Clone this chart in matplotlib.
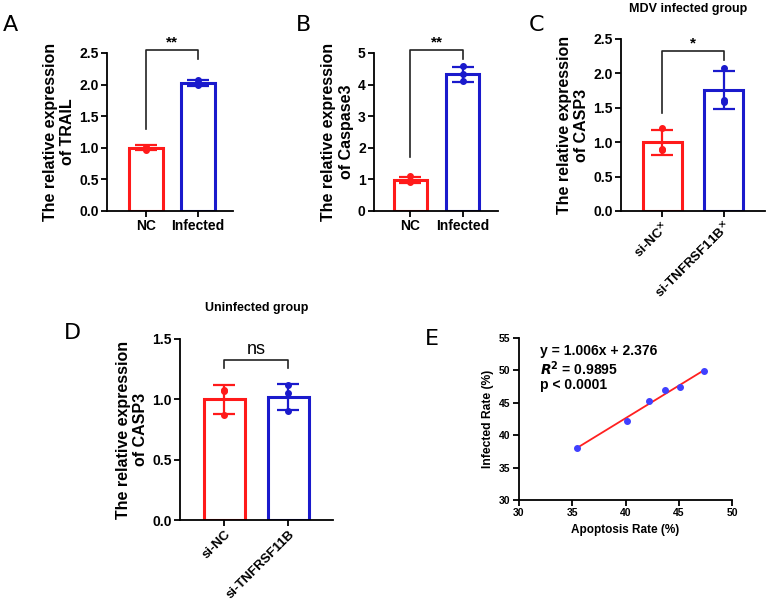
import numpy as np
import matplotlib
matplotlib.use('Agg')
import matplotlib.pyplot as plt

plt.rcParams['font.family'] = ['Liberation Sans', 'DejaVu Sans']
plt.rcParams['font.weight'] = 'bold'

RED = '#ff1a1a'
BLUE = '#1a1acc'
W, H = 767, 604

# ---- data ----
a_groups = ['NC', 'Infected']
a_mean = [1.00, 2.03]
a_sd = [0.04, 0.045]
a_pts = [[0.97, 1.00, 1.02], [2.00, 2.03, 2.07]]

b_groups = ['NC', 'Infected']
b_mean = [0.98, 4.32]
b_sd = [0.10, 0.25]
b_pts = [[1.10, 0.95, 0.92], [4.60, 4.32, 4.10]]

c_groups = ['si-NC$^{\\times}$', 'si-TNFRSF11B$^{\\times}$']
c_mean = [1.00, 1.76]
c_sd = [0.18, 0.28]
c_pts = [[1.20, 0.90, 0.88], [2.08, 1.61, 1.59]]

d_groups = ['si-NC', 'si-TNFRSF11B']
d_mean = [1.00, 1.02]
d_sd = [0.12, 0.11]
d_pts = [[1.08, 1.07, 0.87], [1.12, 1.05, 0.90]]

e_apoptosis = [35.4, 40.1, 42.2, 43.7, 45.1, 47.4]
e_infected = [38.0, 42.2, 45.3, 46.9, 47.4, 49.9]
e_slope, e_icpt = 1.006, 2.376

fig = plt.figure(figsize=(W / 100, H / 100), dpi=100)


def px_axes(l, r, t, b):
    return fig.add_axes([l / W, (H - b) / H, (r - l) / W, (b - t) / H])


def style(ax, fs=10, xfs=None):
    for s in ['top', 'right']:
        ax.spines[s].set_visible(False)
    for s in ['left', 'bottom']:
        ax.spines[s].set_linewidth(1.3)
    ax.tick_params(width=1.3, length=4, labelsize=fs, pad=2)
    if xfs:
        ax.tick_params(axis='x', labelsize=xfs)
    for t in ax.get_xticklabels() + ax.get_yticklabels():
        t.set_fontweight('bold')


def bar_panel(ax, groups, mean, sd, pts, ylim, yticks, yfmt, ylabel, xl, rot=0):
    x = np.arange(len(groups))
    cols = [RED, BLUE]
    for i in x:
        ax.bar(i, mean[i], width=0.64, facecolor='white', edgecolor=cols[i], linewidth=2.2, zorder=2)
        ax.errorbar(i, mean[i], yerr=sd[i], color=cols[i], capsize=8, capthick=1.6, elinewidth=1.6, zorder=3)
        ax.plot([i] * len(pts[i]), pts[i], 'o', color=cols[i], ms=4, zorder=4)
    ax.set_xlim(*xl)
    ax.set_ylim(*ylim)
    ax.set_yticks(yticks)
    ax.set_yticklabels([yfmt.format(v) for v in yticks])
    ax.set_xticks(x)
    if rot:
        ax.set_xticklabels(groups, rotation=rot, ha='right', rotation_mode='anchor')
    else:
        ax.set_xticklabels(groups)
    ax.set_ylabel(ylabel, fontsize=11.5, fontweight='bold', labelpad=3)
    style(ax, xfs=9.5 if rot else None)


def bracket(ax, y_top, y_left, y_right, txt, ty, fs=11, weight='bold'):
    ax.plot([0, 0, 1, 1], [y_left, y_top, y_top, y_right], color='#222222', lw=1.2, clip_on=False)
    ax.text(0.5, ty, txt, ha='center', va='bottom', fontsize=fs, fontweight=weight)


# A
axA = px_axes(107, 233, 53, 211)
bar_panel(axA, a_groups, a_mean, a_sd, a_pts, (0, 2.5), [0, 0.5, 1.0, 1.5, 2.0, 2.5], '{:.1f}',
          'The relative expression\nof TRAIL', (-0.75, 1.67))
bracket(axA, 2.55, 1.3, 2.4, '**', 2.56)

# B
axB = px_axes(374, 498, 53, 211)
bar_panel(axB, b_groups, b_mean, b_sd, b_pts, (0, 5), [0, 1, 2, 3, 4, 5], '{:d}',
          'The relative expression\nof Caspase3', (-0.70, 1.68))
bracket(axB, 5.1, 1.7, 4.8, '**', 5.12)

# C
axC = px_axes(621, 765, 39, 211)
bar_panel(axC, c_groups, c_mean, c_sd, c_pts, (0, 2.5), [0, 0.5, 1.0, 1.5, 2.0, 2.5], '{:.1f}',
          'The relative expression\nof CASP3', (-0.68, 1.68), rot=45)
bracket(axC, 2.33, 1.42, 2.2, '*', 2.34)

# D
axD = px_axes(180, 333, 339, 520)
bar_panel(axD, d_groups, d_mean, d_sd, d_pts, (0, 1.5), [0, 0.5, 1.0, 1.5], '{:.1f}',
          'The relative expression\nof CASP3', (-0.69, 1.70), rot=45)
bracket(axD, 1.33, 1.26, 1.26, 'ns', 1.345, fs=13, weight='normal')

# group titles
fig.text(688 / W, 1 - 9 / H, 'MDV infected group', fontsize=9, fontweight='bold', ha='center', va='center')
fig.text(257 / W, 1 - 308 / H, 'Uninfected group', fontsize=9, fontweight='bold', ha='center', va='center')

# E
axE = px_axes(519, 732, 338, 500)
xs = np.array([min(e_apoptosis), max(e_apoptosis)])
axE.plot(xs, e_slope * xs + e_icpt, color='#ff2020', lw=1.3, zorder=2)
axE.plot(e_apoptosis, e_infected, 'o', color='#4040ff', ms=4, zorder=3)
axE.set_xlim(30, 50)
axE.set_ylim(30, 55)
axE.set_xticks([30, 35, 40, 45, 50])
axE.set_yticks([30, 35, 40, 45, 50, 55])
axE.set_xlabel('Apoptosis Rate (%)', fontsize=8.5, fontweight='bold')
axE.set_ylabel('Infected Rate (%)', fontsize=8.7, fontweight='bold')
style(axE, fs=7.5)
axE.text(0.1, 0.96, 'y = 1.006x + 2.376\n$\\mathbfit{R}^\\mathbf{2}$ = 0.9895\np < 0.0001', transform=axE.transAxes,
         ha='left', va='top', fontsize=10, fontweight='bold', linespacing=1.05)

# panel letters
for lab, x, y in [('A', 10, 25), ('B', 303, 25), ('C', 537, 25), ('D', 72, 333), ('E', 432, 339)]:
    fig.text(x / W, 1 - y / H, lab, fontsize=16, ha='center', va='center', fontweight='normal',
             family=['DejaVu Sans'])

fig.savefig('out.png', dpi=100)
